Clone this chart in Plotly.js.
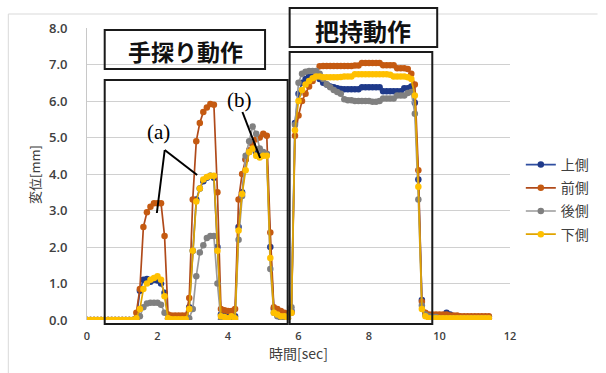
<!DOCTYPE html>
<html><head><meta charset="utf-8">
<script src="https://cdn.plot.ly/plotly-3.0.1.min.js"></script>
<style>html,body{margin:0;padding:0;background:#fff}#c{width:606px;height:373px}</style>
</head><body><div id="c"></div>
<script>
// time [sec]
const time = [0.0,0.1,0.2,0.3,0.4,0.5,0.6,0.7,0.8,0.9,1.0,1.1,1.2,1.3,1.4,1.5,1.6,1.7,1.8,1.9,
2.0,2.1,2.2,2.3,2.4,2.5,2.6,2.7,2.8,2.9,3.0,3.1,3.2,3.3,3.4,3.5,3.6,3.7,3.8,3.9,
4.0,4.1,4.2,4.3,4.4,4.5,4.6,4.7,4.8,4.9,5.0,5.1,5.2,5.3,5.4,5.5,5.6,5.7,5.8,5.9,
6.0,6.1,6.2,6.3,6.4,6.5,6.6,6.7,6.8,6.9,7.0,7.1,7.2,7.3,7.4,7.5,7.6,7.7,7.8,7.9,
8.0,8.1,8.2,8.3,8.4,8.5,8.6,8.7,8.8,8.9,9.0,9.1,9.2,9.3,9.4,9.5,9.6,9.7,9.8,9.9,
10.0,10.1,10.2,10.3,10.4,10.5,10.6,10.7,10.8,10.9,11.0,11.1,11.2,11.3,11.4];

const seriesNames = ["上側","前側","後側","下側"];

const ue = [0,0,0,0,0,0,0,0,0,0,0,0,0,0,
0.05,0.8,1.1,1.12,1.05,1.1,1.08,1.0,0.75,0.05,
0.02,0.02,0.02,0.02,0.02,
0.35,1.9,3.3,3.6,3.8,3.9,3.95,3.9,2.0,0.15,
0.12,0.1,0.12,0.1,
2.55,3.5,4.4,4.6,4.8,4.6,4.5,4.55,4.55,2.0,0.3,0.15,0.1,0.05,0.05,0.25,
5.4,6.2,6.5,6.6,6.7,6.75,6.78,6.6,6.5,6.45,6.4,6.38,6.35,6.33,6.32,6.32,6.32,6.32,6.32,
6.38,6.38,6.38,6.38,6.38,6.38,6.27,6.27,6.27,6.27,6.27,6.27,6.35,6.35,6.4,5.95,3.85,0.55,0.15,
0.1,0.1,0.1,0.1,0.1,0.2,0.15,0.08,0.08,0.08,0.08,0.08,0.08,0.08,0.08,0.08,0.08,0.08];

const mae = [0,0,0,0,0,0,0,0,0,0,0,0,0,0,
0.2,0.85,2.55,2.95,3.1,3.2,3.2,3.2,2.3,0.15,
0.12,0.12,0.12,0.12,0.12,
0.6,3.3,4.9,5.4,5.7,5.82,5.92,5.9,3.5,0.3,
0.27,0.25,0.25,0.3,
3.3,4.0,4.4,4.65,4.8,4.95,5.0,5.1,5.05,2.4,0.35,0.3,0.25,0.2,0.15,0.2,
5.05,5.6,6.0,6.2,6.4,6.55,6.7,6.95,6.96,6.96,6.96,6.96,6.96,6.96,6.96,6.96,6.96,6.97,6.97,
7.04,7.04,7.04,7.04,7.04,7.04,6.98,6.98,6.98,6.98,6.9,6.9,6.9,6.88,6.75,6.45,4.1,0.5,0.2,
0.15,0.15,0.15,0.15,0.15,0.15,0.12,0.12,0.12,0.1,0.1,0.1,0.1,0.1,0.1,0.1,0.1,0.1];

const ushiro = [0,0,0,0,0,0,0,0,0,0,0,0,0,0,
0,0.1,0.35,0.45,0.47,0.47,0.47,0.42,0.2,0,
0,0,0,0,0,
0.05,0.3,1.2,1.85,2.05,2.25,2.3,2.3,1.0,0,
0,0,0,0,
2.2,3.4,4.5,4.9,5.3,5.1,4.7,4.6,4.55,1.4,0.2,0.1,0.05,0,0.1,0.35,
5.35,6.5,6.75,6.8,6.82,6.82,6.82,6.75,6.6,6.45,6.38,6.3,6.25,6.2,6.05,6.02,6.02,6.0,6.0,
6.0,6.0,6.0,5.98,5.98,6.0,6.07,6.07,6.07,6.07,6.15,6.15,6.15,6.22,6.25,5.65,3.3,0.4,0.15,
0.1,0.08,0.08,0.05,0.05,0.05,0.05,0.05,0.05,0.05,0.05,0.05,0.05,0.05,0.05,0.05,0.05,0.05];

const shita = [0,0,0,0,0,0,0,0,0,0,0,0,0,0,
0.05,0.3,0.85,1.0,1.1,1.15,1.2,1.1,0.65,0.05,
0.02,0.02,0.02,0.02,0.02,
0.3,1.9,3.25,3.6,3.85,3.92,3.95,3.95,1.9,0.1,
0.08,0.05,0.1,0.05,
2.45,3.45,4.1,4.6,4.7,4.5,4.45,4.5,4.5,1.7,0.2,0.15,0.1,0.1,0.05,0.2,
5.2,6.0,6.3,6.45,6.55,6.62,6.67,6.67,6.65,6.65,6.65,6.65,6.65,6.66,6.67,6.67,6.67,6.73,6.73,
6.73,6.73,6.73,6.73,6.73,6.73,6.73,6.73,6.72,6.67,6.67,6.67,6.67,6.65,6.6,6.15,3.65,0.3,0.1,
0.05,0.05,0.05,0.05,0.05,0.05,0.05,0.05,0.05,0.05,0.05,0.05,0.05,0.05,0.05,0.05,0.05,0.05];

const values = [ue, mae, ushiro, shita];
const markerColors = ["#1F3A8A","#C55A11","#808080","#FFC000"];
const lineColors   = ["#2F4EA0","#B04A1A","#9A9A9A","#E0A400"];

const yTicks = [0,1,2,3,4,5,6,7,8];
const xTicks = [0,2,4,6,8,10,12];

const sectionLabels = ["手探り動作","把持動作"];
const calloutLabels = ["(a)","(b)"];

// pixel -> paper helpers (plot area 87..517 x 28..320)
const L=87, R=517, T=28, B=320;
const px = x => (x-L)/(R-L);
const py = y => (B-y)/(B-T);

const traces = seriesNames.map((n,i)=>({
  x: time, y: values[i], name: n, type:'scatter', mode:'lines+markers',
  line:{color:lineColors[i], width:1.7},
  marker:{color:markerColors[i], size:6.5, line:{width:0}},
  legendgroup:'g'+i
}));

const rect = (x0,y0,x1,y1)=>({type:'rect',xref:'paper',yref:'paper',x0:px(x0),x1:px(x1),y0:py(y1),y1:py(y0),
  line:{color:'#1a1a1a',width:2},fillcolor:'rgba(0,0,0,0)',layer:'above'});
const seg = (x0,y0,x1,y1,c,w)=>({type:'line',xref:'paper',yref:'paper',x0:px(x0),y0:py(y0),x1:px(x1),y1:py(y1),
  line:{color:c||'#000',width:w||2},layer:'above'});

const shapes = [
  seg(7,14,606,14,'#d9d9d9',1), seg(7,14,7,373,'#d9d9d9',1),
  rect(105,30,268,69), rect(105,80,291,324),
  rect(293,8,443,47), rect(293,52,438,324),
  seg(166,150,199,175), seg(166,150,158,213),
  seg(245,112,263,158)
];

const annotations = [
  {text:sectionLabels[0],xref:'paper',yref:'paper',x:px(187),y:py(51),showarrow:false,xanchor:'center',yanchor:'middle',
   font:{family:'Noto Sans CJK JP',size:23,color:'#111',weight:700}},
  {text:sectionLabels[1],xref:'paper',yref:'paper',x:px(368),y:py(30),showarrow:false,xanchor:'center',yanchor:'middle',
   font:{family:'Noto Sans CJK JP',size:24,color:'#111',weight:700}},
  {text:calloutLabels[0],xref:'paper',yref:'paper',x:px(160),y:py(132),showarrow:false,xanchor:'center',yanchor:'middle',
   font:{family:'Liberation Serif',size:21,color:'#000'}},
  {text:calloutLabels[1],xref:'paper',yref:'paper',x:px(242),y:py(100),showarrow:false,xanchor:'center',yanchor:'middle',
   font:{family:'Liberation Serif',size:21,color:'#000'}},
  {text:'変位[mm]',xref:'paper',yref:'paper',x:px(33),y:py(174),showarrow:false,textangle:-90,xanchor:'center',yanchor:'middle',
   font:{family:'Noto Sans CJK JP',size:13,color:'#404040'}},
  {text:'時間[sec]',xref:'paper',yref:'paper',x:px(302),y:py(353),showarrow:false,xanchor:'center',yanchor:'middle',
   font:{family:'Noto Sans CJK JP',size:14,color:'#404040'}}
];

const layout = {
  width:606, height:373,
  margin:{l:L, r:606-R, t:T, b:373-B, pad:0},
  paper_bgcolor:'#fff', plot_bgcolor:'#fff',
  showlegend:true,
  legend:{x:px(528), y:py(149), xanchor:'left', yanchor:'top', bgcolor:'rgba(0,0,0,0)',
    font:{family:'Noto Sans CJK JP', size:14, color:'#404040'}, tracegroupgap:2, itemwidth:30},
  xaxis:{range:[0,12], tickvals:xTicks, ticktext:xTicks.map(String), showgrid:false, zeroline:false,
    showline:false, ticks:'', ticklabelstandoff:8,
    tickfont:{family:'Open Sans', size:11, color:'#404040', weight:600}},
  yaxis:{range:[0,8], tickvals:yTicks, ticktext:yTicks.map(v=>v.toFixed(1)), showgrid:true, gridcolor:'#d0d0d0', gridwidth:1,
    zeroline:false, showline:true, linecolor:'#c8c8c8', linewidth:1, ticks:'', ticklabelstandoff:16,
    tickfont:{family:'Open Sans', size:13, color:'#404040', weight:600}},
  shapes: shapes,
  annotations: annotations,
  hovermode:false
};

Plotly.newPlot('c', traces, layout, {displayModeBar:false, staticPlot:true});
</script>
</body></html>
